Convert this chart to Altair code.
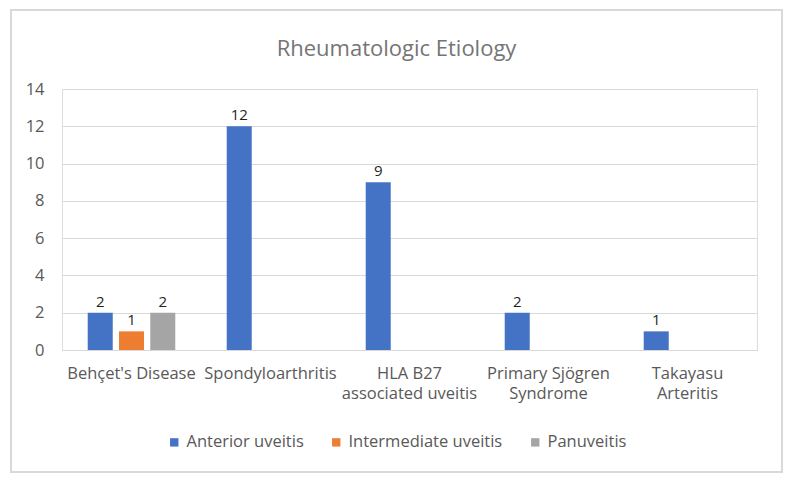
import altair as alt
import pandas as pd

# Rheumatologic causes of uveitis, counted by anatomical type
categories = [
    "Behçet's Disease",
    "Spondyloarthritis",
    "HLA B27\nassociated uveitis",
    "Primary Sjögren\nSyndrome",
    "Takayasu\nArteritis",
]
series = ["Anterior uveitis", "Intermediate uveitis", "Panuveitis"]
anterior = [2, 12, 9, 2, 1]
intermediate = [1, None, None, None, None]
panuveitis = [2, None, None, None, None]
colors = ["#4472C4", "#ED7D31", "#A5A5A5"]
y_ticks = [0, 2, 4, 6, 8, 10, 12, 14]

rows = []
for name, values in zip(series, [anterior, intermediate, panuveitis]):
    for cat, v in zip(categories, values):
        if v is not None:
            rows.append({"Etiology": cat, "Type": name, "Count": v})
df = pd.DataFrame(rows)

FONT = "Open Sans"
GRID = "#D9D9D9"
TEXT = "#595959"

x = alt.X(
    "Etiology:N",
    sort=categories,
    scale=alt.Scale(paddingInner=0.37, paddingOuter=0.185),
    axis=alt.Axis(
        title=None,
        labelAngle=0,
        labelExpr="split(datum.label, '\\n')",
        labelFontSize=16.5,
        labelColor=TEXT,
        labelFont=FONT,
        labelPadding=15,
        labelLineHeight=20,
        ticks=False,
        domainColor=GRID,
        labelBaseline="top",
    ),
)
x_off = alt.XOffset("Type:N", scale=alt.Scale(domain=series, paddingInner=0.2))
y = alt.Y(
    "Count:Q",
    scale=alt.Scale(domain=[0, 14]),
    axis=alt.Axis(
        title=None,
        values=y_ticks,
        labelFontSize=16.5,
        labelColor=TEXT,
        labelFont=FONT,
        labelPadding=18,
        ticks=False,
        domain=False,
        gridColor=GRID,
    ),
)
color = alt.Color(
    "Type:N",
    scale=alt.Scale(domain=series, range=colors),
    legend=alt.Legend(
        title=None,
        orient="none",
        direction="horizontal",
        legendX=104,
        legendY=345,
        symbolType="square",
        symbolSize=70,
        symbolStrokeWidth=0,
        labelFontSize=16.5,
        labelColor=TEXT,
        labelFont=FONT,
        columnPadding=24,
        labelOffset=4,
        padding=0,
    ),
)

bars = alt.Chart(df).mark_bar().encode(x=x, xOffset=x_off, y=y, color=color)

labels = alt.Chart(df).mark_text(
    baseline="bottom", dy=-3, fontSize=15, font=FONT, color="#1f1f1f"
).encode(x=x, xOffset=x_off, y=y, text="Count:Q")

# light frame around the whole chart
frame = alt.Chart(df).mark_rect(
    fill=None, stroke=GRID, strokeWidth=1.5
).encode(
    x=alt.value(-51), x2=alt.value(720), y=alt.value(-79), y2=alt.value(383)
)

chart = (
    alt.layer(frame, bars, labels)
    .properties(
        width=695,
        height=261,
        padding={"left": 62, "top": 89, "right": 35, "bottom": 133},
        autosize=alt.AutoSizeParams(type="none"),
        title=alt.TitleParams(
            "Rheumatologic Etiology",
            font=FONT,
            fontSize=22,
            fontWeight="normal",
            color="#757575",
            anchor="middle",
            frame="group",
            baseline="alphabetic",
            dx=-13,
            offset=-69,
        ),
    )
    .configure_view(stroke=None)
    .configure(background="white")
)

chart.save("out.html", embed_options={"renderer": "svg", "actions": False})
